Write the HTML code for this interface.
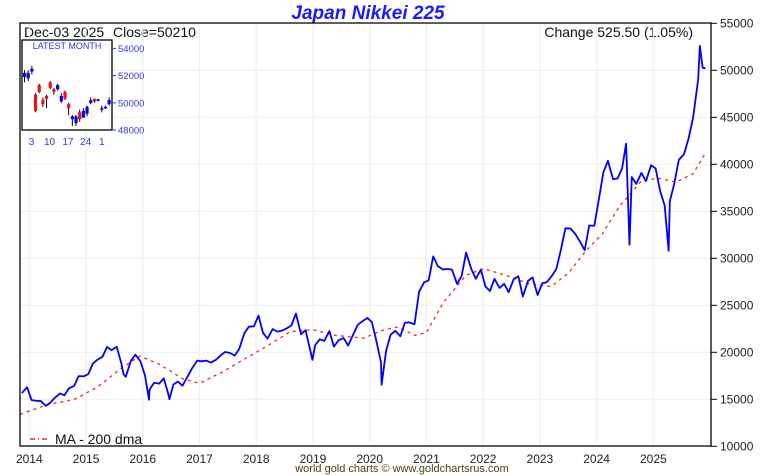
<!DOCTYPE html>
<html><head><meta charset="utf-8"><style>
body{margin:0;background:#fff;width:760px;height:475px;overflow:hidden;font-family:"Liberation Sans",sans-serif}
svg{display:block}
</style></head><body>
<svg id="chart" width="760" height="475" xmlns="http://www.w3.org/2000/svg" font-family="Liberation Sans, sans-serif">
<text x="368" y="19" text-anchor="middle" font-size="19" font-weight="bold" font-style="italic" fill="#1a1aff">Japan Nikkei 225</text>
<text x="24" y="37" font-size="14" fill="#111">Dec-03</text>
<text x="73" y="37" font-size="14" fill="#111">2025</text>
<text x="113" y="37" font-size="14" fill="#111">Close=50210</text>
<text x="693" y="37" text-anchor="end" font-size="14" fill="#111">Change 525.50 (1.05%)</text>
<text x="402" y="472" text-anchor="middle" font-size="11" fill="#5a3a10">world gold charts © www.goldchartsrus.com</text>
<g id="grid"></g><g id="ma"></g><g id="price"></g><g id="axes"></g><g id="inset"></g>
<line x1="30" y1="439" x2="50" y2="439" stroke="#e00" stroke-width="1.2" stroke-dasharray="5,3,1,3"/>
<text x="55" y="444" font-size="14" fill="#111">MA - 200 dma</text>
</svg>
<script>
const yearTicks=[2014,2015,2016,2017,2018,2019,2020,2021,2022,2023,2024,2025];
const yTicks=[10000,15000,20000,25000,30000,35000,40000,45000,50000,55000];
const priceDates=[2013.87,2013.96,2014.04,2014.12,2014.2,2014.29,2014.37,2014.45,2014.54,2014.62,2014.7,2014.79,2014.87,2014.96,2015.04,2015.12,2015.2,2015.29,2015.37,2015.45,2015.54,2015.62,2015.66,2015.7,2015.79,2015.87,2015.96,2016.04,2016.11,2016.12,2016.2,2016.29,2016.37,2016.45,2016.47,2016.54,2016.62,2016.7,2016.79,2016.87,2016.96,2017.04,2017.12,2017.2,2017.29,2017.37,2017.45,2017.54,2017.62,2017.7,2017.79,2017.87,2017.96,2018.04,2018.12,2018.2,2018.29,2018.37,2018.45,2018.54,2018.62,2018.7,2018.79,2018.87,2018.96,2018.99,2019.04,2019.12,2019.2,2019.29,2019.37,2019.45,2019.54,2019.62,2019.7,2019.79,2019.87,2019.96,2020.04,2020.12,2020.2,2020.21,2020.29,2020.37,2020.45,2020.54,2020.62,2020.7,2020.79,2020.87,2020.96,2021.04,2021.12,2021.2,2021.29,2021.37,2021.45,2021.54,2021.62,2021.7,2021.79,2021.87,2021.96,2022.04,2022.12,2022.2,2022.29,2022.37,2022.45,2022.54,2022.62,2022.7,2022.79,2022.87,2022.96,2023.04,2023.12,2023.2,2023.29,2023.37,2023.45,2023.54,2023.62,2023.7,2023.79,2023.87,2023.96,2024.04,2024.12,2024.2,2024.29,2024.37,2024.45,2024.52,2024.58,2024.62,2024.7,2024.79,2024.87,2024.96,2025.04,2025.12,2025.2,2025.27,2025.29,2025.37,2025.45,2025.54,2025.62,2025.7,2025.79,2025.82,2025.87,2025.92];
const priceValues=[15662,16291,14915,14841,14828,14304,14632,15162,15621,15425,16174,16414,17460,17451,17674,18798,19207,19520,20563,20236,20585,18890,17700,17388,19083,19747,19034,17518,14950,16027,16759,16666,17235,15576,15000,16569,16887,16450,17425,18308,19114,19041,19119,18909,19197,19651,20033,19925,19646,20356,22012,22725,22765,23900,22068,21454,22468,22202,22305,22554,22865,24120,21920,22351,20015,19200,20773,21385,21206,22259,20601,21276,21521,20704,21756,22927,23294,23657,23205,21143,18917,16550,20194,21878,22288,21710,23140,23185,22977,26434,27444,27663,30200,29179,28813,28860,28792,27284,28090,30600,28893,27822,28792,27002,26527,27821,26848,27280,26393,27802,28092,25937,27587,27969,26095,27327,27446,28041,28856,30888,33189,33172,32619,31858,30859,33487,33464,36287,39166,40369,38406,38488,39583,42200,31450,38648,37920,39081,38208,39895,39572,37156,35618,30800,36045,37965,40487,41069,42718,44932,49000,52600,50254,50210];
const maDates=[2013.84,2014.3,2014.8,2015.2,2015.6,2015.95,2016.3,2016.7,2017.0,2017.4,2017.8,2018.2,2018.6,2019.0,2019.4,2019.9,2020.2,2020.5,2020.8,2021.0,2021.3,2021.7,2022.0,2022.4,2022.8,2023.2,2023.5,2023.8,2024.1,2024.4,2024.8,2025.1,2025.4,2025.7,2025.92];
const maValues=[13400,14400,15000,16300,18200,19600,18700,17200,16700,17900,19300,20700,22200,22400,21800,21500,22300,22700,21800,22100,25300,28200,28900,28200,27300,27000,28400,30700,32600,35500,38300,38500,38100,39000,41200];
const insetDays=[0,1,2,3,4,5,6,7,8,9,10,11,12,13,14,15,16,17,18,19,20,21,22,23];
const insetOpen=[51900,51800,52300,50600,51300,50200,50500,51500,51000,51000,50100,50800,49900,48800,48500,49300,48900,49200,50000,50300,50150,49500,49600,49900];
const insetClose=[52200,52200,52500,49400,50800,49900,50300,51100,50800,51300,50500,50300,49600,49000,49000,48800,49400,49700,50200,50100,50250,49600,49700,50200];
const insetHigh=[52400,52400,52700,50700,51400,50400,50600,51600,51100,51400,50700,50900,50000,49100,49100,49500,49600,49800,50400,50300,50300,49800,49800,50400];
const insetLow=[51500,51600,52100,49300,50700,49700,49600,51000,50600,50900,50000,50200,49100,48300,48300,48600,48900,49000,49900,50000,50100,49300,49550,49800];
const insetXLabels=["3","10","17","24","1"];
const insetXLabelDays=[1.9,6.8,11.8,16.6,21];
const insetYTicks=[48000,50000,52000,54000];

const NS="http://www.w3.org/2000/svg";
const L=20,R=711,T=23,B=446;
const xs=t=>29.3+(t-2014)*56.73;
const ys=v=>446.3-(v-10000)*47/5000;
function mk(tag,attrs,parent){const e=document.createElementNS(NS,tag);for(const k in attrs)e.setAttribute(k,attrs[k]);parent.appendChild(e);return e;}
const grid=document.getElementById('grid'),axes=document.getElementById('axes');
yearTicks.forEach(y=>{
  const g=mk('line',{x1:xs(y),x2:xs(y),y1:T,y2:B,stroke:'#e8f1f9','stroke-width':1.2},grid);
  
  
  const t=mk('text',{x:xs(y),y:463,'text-anchor':'middle','font-size':12,fill:'#222'},axes);
  t.textContent=y;
  
  
});
yTicks.forEach(v=>{
  const g=mk('line',{x1:L,x2:R,y1:ys(v),y2:ys(v),stroke:'#e8f1f9','stroke-width':1.2},grid);
  
  
  mk('line',{x1:R,x2:R+6,y1:ys(v),y2:ys(v),stroke:'#000'},axes);
  const t=mk('text',{x:R+9,y:ys(v)+4,'font-size':12,fill:'#222'},axes);
  t.textContent=v;
  
  
});
const frame=mk('path',{d:`M${L},${T}H${R}V${B}H${L}Z`,fill:'none',stroke:'#000','stroke-width':1.3},axes);


const ma=mk('polyline',{points:maDates.map((d,i)=>xs(d)+','+ys(maValues[i])).join(' '),fill:'none',stroke:'#ff2020','stroke-width':1.3,'stroke-dasharray':'3,4'},document.getElementById('ma'));


const pl=mk('polyline',{points:priceDates.map((d,i)=>xs(d)+','+ys(priceValues[i])).join(' '),fill:'none',stroke:'#0000ff','stroke-width':1.8,'stroke-linejoin':'round'},document.getElementById('price'));



// inset
const ins=document.getElementById('inset');
const iL=22,iR=112,iT=40,iB=130;
const ix=d=>iL+2.5+d*3.68;
const iy=v=>130-(v-48000)*13.6/1000;
mk('rect',{x:iL,y:iT,width:iR-iL,height:iB-iT,fill:'#fff',stroke:'#000','stroke-width':1.3},ins);
const it=mk('text',{x:67,y:49,'text-anchor':'middle','font-size':9,fill:'#3333ff'},ins);
it.textContent='LATEST MONTH';


insetYTicks.forEach(v=>{
  mk('line',{x1:iR,x2:iR+4,y1:iy(v),y2:iy(v),stroke:'#3333ff'},ins);
  const t=mk('text',{x:iR+6,y:iy(v)+3.5,'font-size':9.5,fill:'#3333ff'},ins);
  t.textContent=v;
  
  
});
insetXLabels.forEach((s,i)=>{
  const t=mk('text',{x:ix(insetXLabelDays[i]),y:145,'text-anchor':'middle','font-size':10,fill:'#3333ff'},ins);
  t.textContent=s;
  
  
});
insetDays.forEach((d,i)=>{
  const up=insetClose[i]>=insetOpen[i];
  const col=up?'#0000ff':'#ee1111';
  const w=mk('line',{x1:ix(d),x2:ix(d),y1:iy(insetHigh[i]),y2:iy(insetLow[i]),stroke:'#000','stroke-width':1},ins);
  
  
  const top=iy(Math.max(insetOpen[i],insetClose[i])),bot=iy(Math.min(insetOpen[i],insetClose[i]));
  const r=mk('rect',{x:ix(d)-1.6,y:top,width:3.2,height:Math.max(1.5,bot-top),fill:col},ins);
  
  
});
</script>
</body></html>
